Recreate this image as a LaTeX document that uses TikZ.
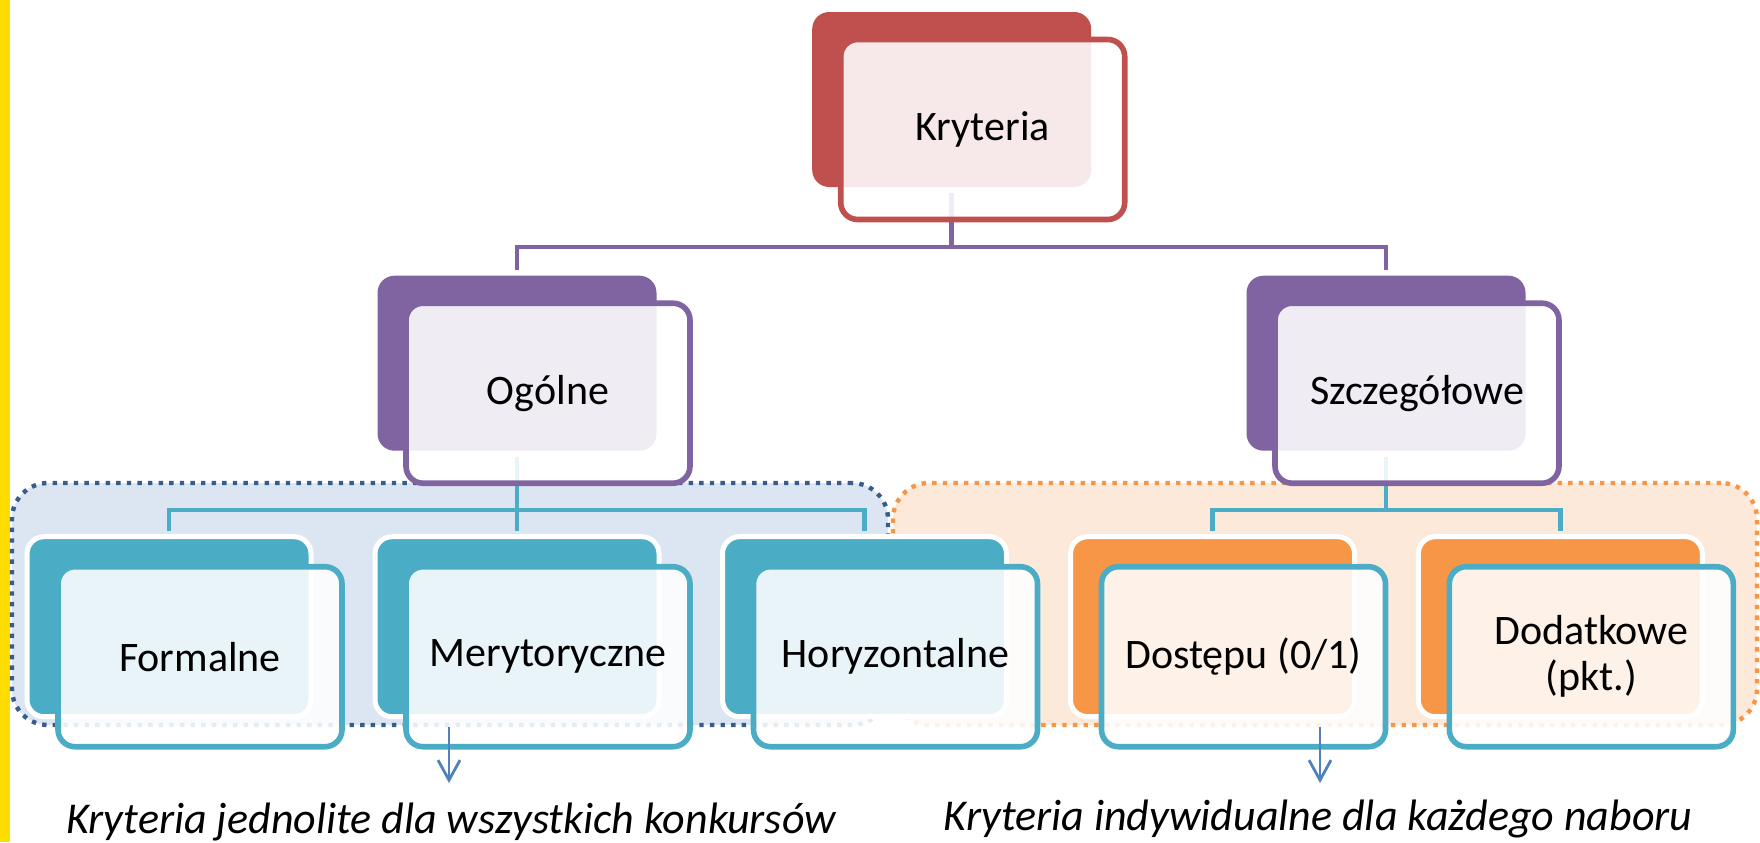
\documentclass[tikz,border=0pt]{standalone}
\usepackage{fontspec}
\setmainfont{Carlito}
\usepackage{tikz}
\usetikzlibrary{arrows.meta,positioning}
\definecolor{krred}{HTML}{C0504D}
\definecolor{krpurple}{HTML}{8064A2}
\definecolor{krteal}{HTML}{4BACC6}
\definecolor{krorange}{HTML}{F79646}
\definecolor{krblue}{HTML}{4F81BD}
\definecolor{grpline}{HTML}{385D8A}
\definecolor{grpblue}{HTML}{DCE6F2}
\definecolor{grporange}{HTML}{FDE9D9}
\definecolor{baryellow}{HTML}{FFDD00}
\tikzset{
    %Define standard arrow tip
    >={Straight Barb[length=10pt,width=11pt]},
    %Define style for back boxes
    back/.style={
           rectangle,
           rounded corners=8.5pt,
           minimum width=139.5pt,
           minimum height=87.5pt,
           inner sep=0pt},
    backthree/.style={
           back,
           draw=white, line width=2.5pt,
           minimum width=142pt,
           minimum height=90pt},
    %Define style for front boxes
    front/.style={
           rectangle,
           rounded corners=8.5pt,
           line width=2.8pt,
           fill=white, fill opacity=0.88, text opacity=1,
           minimum width=142pt,
           minimum height=90pt,
           font=\fontsize{21}{23}\selectfont,
           align=center,
           on grid},
    %Define style for groups
    group/.style={
           rectangle,
           rounded corners=18pt,
           line width=2.2pt,
           dash pattern=on 2.2pt off 3.1pt,
           minimum height=121pt},
    % Define connector styles
    link/.style={line width=2.3pt},
    pil/.style={->, draw=krblue, line width=1.4pt},
    note/.style={font=\fontsize{22}{24}\selectfont\itshape, anchor=base, inner sep=0pt}
}
\begin{document}
\begin{tikzpicture}[x=0.5pt,y=-0.5pt]
\useasboundingbox (0,0) rectangle (1760,842);
\fill[baryellow] (0,0) rectangle (10,842);
 %groups
\node[group, draw=grpline, fill=grpblue, minimum width=438pt] (gA) at (450,604) {};
\node[group, draw=krorange, fill=grporange, minimum width=432pt] (gB) at (1325,604) {};
 %back boxes
\node[back, fill=krred] (kb) at (951.7,99.5) {};
\node[back, fill=krpurple] (ob) at (517,363.2) {};
\node[back, fill=krpurple] (sb) at (1386,363.2) {};
\node[backthree, fill=krteal] (fb) at (169,626.7) {};
\node[backthree, fill=krteal] (mb) at (517,626.7) {};
\node[backthree, fill=krteal] (hb) at (864.5,626.7) {};
\node[backthree, fill=krorange] (db) at (1212.5,626.7) {};
\node[backthree, fill=krorange] (pb) at (1560.3,626.7) {};
 %connectors
\coordinate (j1) at (951.7,247);
\coordinate (j2) at (517,510);
\coordinate (j3) at (1386,510);
\draw[link, draw=krpurple, shorten <=3pt] (kb) -- (j1);
\draw[link, draw=krpurple, shorten <=2.5pt, shorten >=2.5pt] (ob) |- (j1) -| (sb);
\draw[link, draw=krteal, shorten <=3pt] (ob) -- (j2);
\draw[link, draw=krteal, shorten <=1.5pt, shorten >=1.5pt] (fb) |- (j2) -| (hb);
\draw[link, draw=krteal, shorten >=1.5pt] (j2) -- (mb);
\draw[link, draw=krteal, shorten <=3pt] (sb) -- (j3);
\draw[link, draw=krteal, shorten <=1.5pt, shorten >=1.5pt] (db) |- (j3) -| (pb);
 %front boxes
\node[front, draw=krred, below right=15pt and 15.5pt of kb] (k) {Kryteria};
\node[front, draw=krpurple, below right=15pt and 15.5pt of ob] (o) {Ogólne};
\node[front, draw=krpurple, below right=15pt and 15.5pt of sb] (s) {Szczegółowe};
\node[front, draw=krteal, below right=15pt and 15.5pt of fb] (f) {Formalne};
\node[front, draw=krteal, below right=15pt and 15.5pt of mb] (m) {Merytoryczne};
\node[front, draw=krteal, below right=15pt and 15.5pt of hb] (h) {Horyzontalne};
\node[front, draw=krteal, below right=15pt and 15.5pt of db] (d) {Dostępu (0/1)};
\node[front, draw=krteal, below right=15pt and 15.5pt of pb] (p) {Dodatkowe\\(pkt.)};
 %notes
\coordinate (aL) at (449,727);
\coordinate (bL) at (449,783);
\coordinate (aR) at (1320,727);
\coordinate (bR) at (1320,783);
\draw[pil] (aL) -- (bL);
\draw[pil] (aR) -- (bR);
\node[note] (tL) at (451,833) {Kryteria jednolite dla wszystkich konkursów};
\node[note] (tR) at (1318,830) {Kryteria indywidualne dla każdego naboru};
\end{tikzpicture}
\end{document}
